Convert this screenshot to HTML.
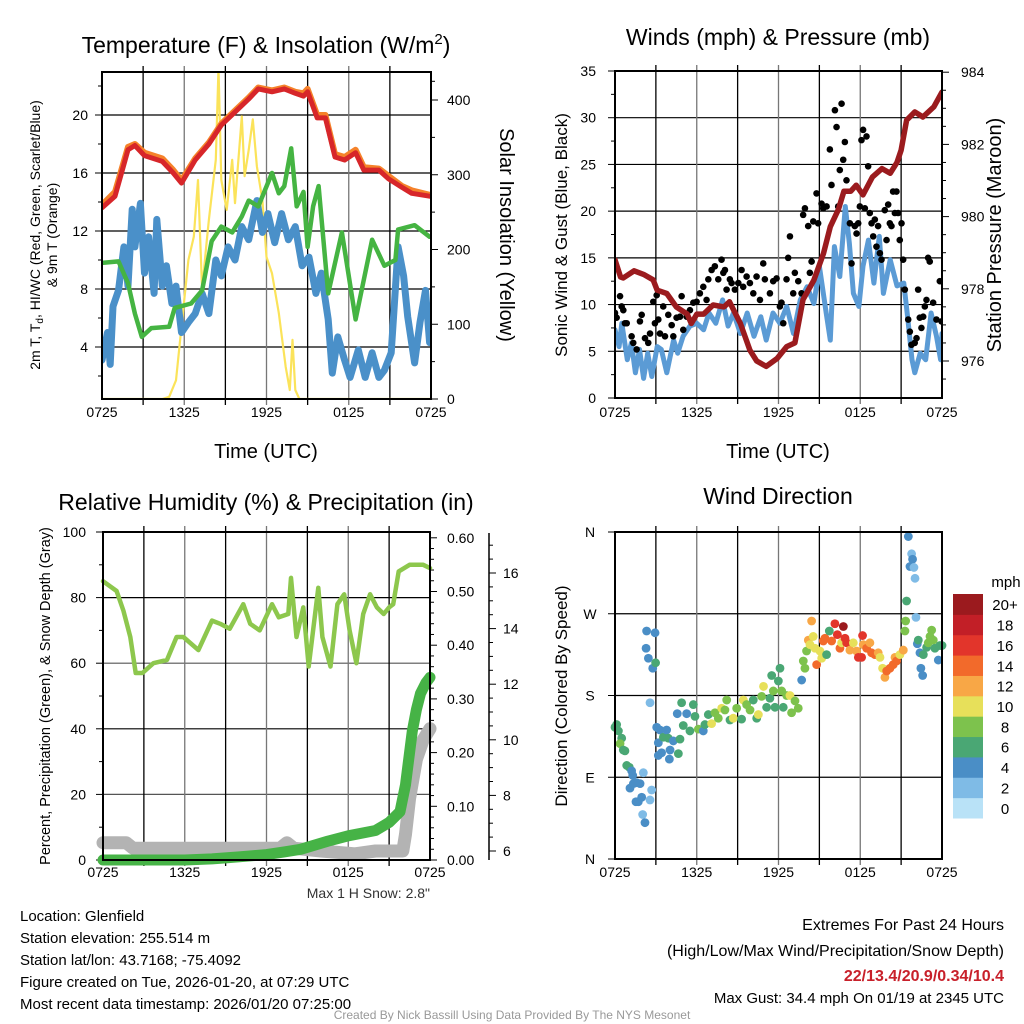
<!DOCTYPE html>
<html><head><meta charset="utf-8">
<style>
html,body{margin:0;padding:0;background:#fff;}
svg{display:block;font-family:"Liberation Sans",Arial,sans-serif;}
</style></head>
<body>
<svg id="c" width="1024" height="1024" viewBox="0 0 1024 1024" xmlns="http://www.w3.org/2000/svg">
<rect width="1024" height="1024" fill="#fff"/>
<g id="p1"></g>
<g id="p2"></g>
<g id="p3"></g>
<g id="p4"></g>
<g id="txt" font-size="15" fill="#000">
<text x="20" y="921">Location: Glenfield</text>
<text x="20" y="943">Station elevation: 255.514 m</text>
<text x="20" y="965">Station lat/lon: 43.7168; -75.4092</text>
<text x="20" y="987">Figure created on Tue, 2026-01-20, at 07:29 UTC</text>
<text x="20" y="1009">Most recent data timestamp: 2026/01/20 07:25:00</text>
<text x="1004" y="930" text-anchor="end" font-size="16">Extremes For Past 24 Hours</text>
<text x="1004" y="956" text-anchor="end" font-size="16">(High/Low/Max Wind/Precipitation/Snow Depth)</text>
<text x="1004" y="981" text-anchor="end" font-size="16" font-weight="bold" fill="#c8202a">22/13.4/20.9/0.34/10.4</text>
<text x="1004" y="1003" text-anchor="end" font-size="15">Max Gust: 34.4 mph On 01/19 at 2345 UTC</text>
<text x="512" y="1019" text-anchor="middle" font-size="12" fill="#999">Created By Nick Bassill Using Data Provided By The NYS Mesonet</text>
</g>
</svg>
<script>
// ---------- Panel 1 data ----------
const xTickLabels = ["0725","1325","1925","0125","0725"];
const tempHours = [0,0.95,1.9,2.4,3.1,4.4,5.2,5.8,6.8,7.8,8.7,9.7,10.7,11.4,12.4,13.3,14.1,14.7,15.0,15.7,16.3,17.0,17.7,18.5,19.1,20.2,20.9,21.9,22.6,23.9];
const temp2m = [13.6,14.4,17.6,17.9,17.2,16.8,16.0,15.3,16.9,18.0,19.3,20.2,21.1,21.8,21.6,21.8,21.5,21.3,21.6,19.8,19.8,17.1,16.9,17.4,16.2,16.2,15.6,15.0,14.6,14.4];
const temp9m = [13.8,14.7,17.8,18.0,17.4,17.0,16.2,15.5,17.0,18.1,19.4,20.3,21.2,21.9,21.7,21.9,21.6,21.5,21.8,20.0,20.0,17.3,17.1,17.6,16.4,16.3,15.8,15.1,14.8,14.5];
const hiHours = [0,1.2,1.9,2.4,2.9,3.6,4.9,5.3,6.5,7.3,8.0,8.7,9.5,10.2,10.7,11.4,12.4,12.9,13.3,13.8,14.2,14.7,15.0,15.4,15.8,16.5,17.5,18.5,19.7,20.6,21.4,21.6,22.8,23.9];
const hiwc = [9.8,9.9,8.4,6.3,4.7,5.3,5.4,6.7,7.0,7.9,11.3,12.3,11.9,13.0,14.1,13.7,16.0,14.6,15.1,17.7,13.7,14.7,10.9,13.7,15.1,7.7,11.9,5.9,11.4,9.6,10.0,12.1,12.4,11.6];
const tdHours = [0,0.4,0.6,0.8,1.2,1.6,1.9,2.2,2.4,2.8,3.1,3.4,3.8,4.0,4.4,4.7,5.1,5.4,5.8,6.3,6.8,7.3,7.8,8.3,8.7,9.2,9.7,10.2,10.7,11.3,11.7,12.1,12.6,13.1,13.6,14.1,14.6,15.1,15.6,16.0,16.5,16.8,17.2,17.7,18.1,18.7,19.2,19.7,20.2,20.6,21.1,21.6,22.0,22.3,22.8,23.2,23.6,23.9];
const dewpoint = [3.1,5.0,2.8,6.8,7.9,10.9,8.2,13.5,10.9,13.9,9.1,11.6,7.7,12.8,8.2,9.6,7.0,8.2,5.0,5.7,6.3,7.7,6.3,10.0,8.9,10.9,10.0,12.3,11.4,14.1,11.9,13.2,11.2,13.2,11.4,12.3,9.6,10.2,7.7,9.1,5.9,2.2,4.7,3.1,1.9,3.8,1.9,3.6,1.9,2.4,3.6,10.9,8.9,6.1,2.9,5.7,7.9,4.3];
const solHours = [0,4.4,4.9,5.4,5.8,6.3,6.7,7.0,7.3,7.6,7.8,8.3,8.5,8.7,9.1,9.5,9.7,10.2,10.4,10.7,11.0,11.3,11.7,12.0,12.4,12.9,13.4,13.7,13.9,14.1,14.4,24];
const solar = [0,0,3,25,97,186,217,293,146,204,240,320,443,293,253,320,262,378,298,333,374,311,266,190,168,115,43,12,79,12,0,0];

// ---------- Panel 2 data ----------
const presHours = [0,0.4,0.6,1.4,2.1,2.8,3.1,3.8,4.5,5.3,5.6,6.0,6.5,7.2,8.0,8.4,9.2,9.9,10.4,11.1,11.9,12.6,13.2,13.8,14.6,15.3,15.8,16.4,16.8,17.3,17.7,18.2,18.9,19.6,20.2,20.7,21.0,21.4,22.0,22.6,23.4,24];
const pressure = [978.8,978.33,978.3,978.5,978.4,978.25,977.96,977.87,977.5,977.3,977.04,977.3,977.3,977.55,977.5,977.64,977.04,976.3,976.0,975.85,976.07,976.4,976.5,977.7,978.24,978.98,979.72,980.2,980.7,980.7,980.87,980.6,981.1,981.33,981.2,981.5,981.84,982.67,982.9,982.76,983.04,983.45];
const windHours = [0,0.3,0.5,0.9,1.2,1.5,1.8,2.1,2.4,2.7,3.1,3.4,3.8,4.3,4.6,5.0,5.5,6.0,6.5,6.9,7.4,7.9,8.3,8.7,9.2,9.7,10.2,10.7,11.1,11.6,12.1,12.6,13.1,13.6,14.1,14.6,15.0,15.5,15.8,16.1,16.5,16.9,17.2,17.5,17.9,18.2,18.6,19.0,19.4,19.7,20.2,20.7,21.2,21.5,21.8,22.0,22.4,22.8,23.2,23.6,23.9,24];
const windSpeed = [7.3,5.5,8.0,4.1,5.9,2.7,5.2,2.1,4.8,2.3,5.5,5.2,2.7,6.2,4.8,6.6,7.7,8.0,7.3,9.1,8.0,10.5,7.7,9.1,6.9,9.1,6.6,8.7,6.2,9.1,8.0,9.8,6.9,10.5,11.9,10.1,14.1,9.1,6.2,16.2,13.0,20.5,16.5,11.2,9.8,14.1,16.9,12.3,17.3,11.2,14.8,12.0,12.3,8.4,4.1,2.7,4.8,4.1,9.1,6.6,4.1,6.9];
const gustHours = [0,0.12,0.37,0.49,0.61,0.73,0.86,1.22,1.34,1.59,1.83,1.96,2.2,2.44,2.57,2.81,2.93,3.06,3.18,3.3,3.54,3.67,3.91,4.16,4.28,4.52,4.77,4.89,5.01,5.26,5.5,5.75,5.99,6.23,6.48,6.72,6.85,7.09,7.33,7.58,7.82,7.95,8.07,8.19,8.43,8.56,8.8,9.05,9.29,9.41,9.66,9.9,10.15,10.39,10.64,10.88,11.0,11.37,11.61,11.86,12.1,12.22,12.35,12.59,12.71,12.84,13.08,13.2,13.45,13.69,13.81,13.94,14.18,14.3,14.43,14.55,14.79,14.91,15.16,15.28,15.53,15.77,15.89,16.14,16.26,16.38,16.5,16.63,16.75,16.87,16.99,17.24,17.36,17.6,17.73,17.85,17.97,18.09,18.21,18.34,18.46,18.58,18.7,18.83,18.95,19.07,19.19,19.31,19.44,19.56,19.8,19.93,20.05,20.17,20.29,20.41,20.54,20.66,20.78,20.9,21.03,21.15,21.27,21.52,21.64,21.76,22.0,22.13,22.25,22.37,22.49,22.62,22.74,22.86,22.98,23.1,23.35,23.59,23.84,23.96];
const gustSpeed = [9.1,8.6,10.9,9.8,9.4,8.0,8.0,6.6,5.9,5.2,8.2,8.9,6.4,5.9,6.9,10.3,8.0,11.0,8.4,6.9,9.8,6.6,8.9,7.8,6.6,8.6,8.7,10.9,7.3,8.7,9.4,10.2,10.3,11.2,11.9,10.5,12.7,13.7,14.1,12.7,14.8,13.4,13.7,11.6,12.7,12.3,11.6,12.3,13.7,11.9,13.0,12.3,11.2,13.0,10.5,14.4,12.7,11.2,12.5,12.8,9.8,10.2,8.0,12.7,15.0,17.3,11.2,13.4,12.5,11.2,19.6,20.3,18.4,13.4,14.6,18.9,21.9,18.7,20.8,20.3,20.5,26.6,22.8,30.8,29.0,20.5,24.4,31.5,25.5,27.4,23.3,18.7,14.4,18.4,17.6,18.7,20.5,27.6,28.7,20.3,28.0,24.8,19.8,18.7,17.3,19.1,16.2,18.4,15.5,14.8,20.1,16.9,20.7,18.7,18.4,22.1,19.8,22.1,19.8,16.9,18.7,14.8,11.6,8.4,7.1,5.7,5.9,6.4,11.6,8.6,7.5,8.7,9.8,10.5,15.0,14.6,10.2,8.4,12.5,8.2];

// ---------- Panel 3 data ----------
const rhHours = [0,1.0,1.5,2.0,2.4,2.9,3.7,4.7,5.4,5.9,7.0,8.0,8.6,9.3,10.3,10.8,11.5,12.4,12.9,13.6,13.8,14.2,14.7,15.1,15.8,16.1,16.7,17.2,17.7,18.1,18.6,19.1,19.6,20.1,20.6,21.0,21.3,21.7,22.5,23.5,24];
const rh = [85,82,76,68,57,57,60,61,68,68,64,73,72,70.5,78,72,70,78,74,75,86,68,77,59,83,68,59,78,81,70,60,75,81,77,75,77,78,88,90,90,89];
const precipHours = [0,2,4,6,8,9,10,11,12,13.3,14.5,16.5,18,20,21,21.8,22.2,22.4,22.7,23,23.3,23.7,24];
const precip = [0,0,0,0,0.002,0.004,0.006,0.008,0.01,0.015,0.02,0.035,0.045,0.055,0.07,0.09,0.14,0.18,0.24,0.28,0.31,0.33,0.34];
const snowHours = [0,1,1.7,2.2,4,6,8,10,12,13,13.5,14,16,18.5,20,22,22.2,22.5,23,23.5,24];
const snowDepth = [6.3,6.3,6.3,6.1,6.1,6.1,6.1,6.1,6.1,6.1,6.3,6.1,6.0,5.9,6.0,6.0,6.6,7.9,9.3,10.0,10.4];
const rhTicks = [0,20,40,60,80,100];
const precipTicks = ["0.00","0.10","0.20","0.30","0.40","0.50","0.60"];
const snowTicks = [6,8,10,12,14,16];

// ---------- Panel 4 data ----------
const wdHours = [0,0.12,0.25,0.49,0.37,0.61,0.73,0.86,1.05,1.22,1.3,1.1,1.35,1.59,1.84,1.54,1.71,1.96,2.08,2.03,2.2,2.57,2.69,2.57,2.32,2.28,2.45,2.77,2.94,2.98,3.06,3.3,3.18,3.42,3.18,3.55,3.79,3.91,4.04,3.99,4.28,4.65,4.77,4.57,4.89,5.01,5.26,5.5,5.75,5.87,6.12,6.48,6.6,6.85,7.09,7.34,7.58,7.83,8.07,8.2,8.44,8.68,8.93,9.29,9.42,9.66,9.91,10.15,10.4,10.52,10.76,10.9,11.13,11.37,11.5,11.62,11.74,11.99,12.11,12.23,12.35,12.6,12.84,12.96,13.21,13.45,13.7,13.82,13.94,14.06,14.19,14.31,14.43,14.55,14.68,14.8,15.04,15.17,15.29,15.41,15.53,15.73,15.9,16.14,16.32,16.51,16.63,16.76,16.88,17.0,17.24,17.49,17.73,17.86,18.1,18.17,18.22,18.47,18.71,18.83,19.08,19.32,19.45,19.64,19.81,19.94,20.18,20.42,20.55,20.67,20.91,21.16,21.28,21.33,21.4,21.53,21.65,21.77,21.84,21.94,22.02,22.09,22.19,22.26,22.38,22.45,22.58,22.63,22.87,22.99,23.12,23.24,23.36,23.48,23.73,23.85,24];
const wdDir = [145,148,141,133,127,120,119,103,101,97,92,78,83,84,83,63,63,68,95,49,40,65,76,172,251,232,221,210,249,216,145,142,128,117,114,134,142,133,120,110,130,116,132,160,172,147,160,141,170,157,143,141,148,159,149,161,155,166,164,175,153,155,166,154,175,170,164,175,155,159,179,190,167,177,202,185,167,196,210,185,167,180,180,161,174,166,197,218,210,229,241,236,262,245,232,214,229,221,240,243,225,251,240,259,247,232,238,256,243,238,230,238,229,222,222,246,236,232,238,227,225,227,222,210,200,207,210,214,222,218,225,230,251,262,284,355,322,336,330,321,309,266,237,241,227,210,202,225,233,238,245,252,241,232,219,235,235];
const wdSpeed = [7,7,7,7,9,7,7,7,7,5,5,5,5,5,5,5,5,5,3,3,5,3,3,3,5,5,5,5,5,7,5,5,5,5,5,7,5,7,5,5,5,7,7,5,7,7,5,7,7,7,9,5,7,7,11,9,9,11,9,9,7,11,9,7,11,9,9,7,7,11,9,11,7,7,7,9,7,7,7,9,7,9,11,9,9,9,5,9,9,9,13,11,13,11,11,15,11,11,15,15,7,7,15,17,17,15,11,20,17,17,13,11,13,17,17,17,13,15,13,15,15,13,11,11,13,15,15,15,13,15,11,13,9,9,7,5,5,3,5,3,3,3,5,7,5,5,5,7,7,9,9,9,9,7,5,7,7];
const dirLabels = ["N","E","S","W","N"];
const speedBins = ["0","2","4","6","8","10","12","14","16","18","20+"];
const binColors = ["#b9e2f7","#7fbbe6","#4a8ec6","#4aa774","#7dc24d","#e7e05a","#f8a746","#f26a2b","#e2352b","#c21f27","#9b1a1e"];

// ---------- helpers ----------
const NS="http://www.w3.org/2000/svg";
function mk(parent, tag, attrs){const e=document.createElementNS(NS,tag);for(const k in attrs)e.setAttribute(k,attrs[k]);parent.appendChild(e);return e;}
function txt(parent, x, y, s, size, anchor, rot){const t=mk(parent,'text',{x:x,y:y,'font-size':size,'text-anchor':anchor||'middle'});if(rot)t.setAttribute('transform','rotate('+rot+' '+x+' '+y+')');t.textContent=s;return t;}
function pathD(xs,ys,fx,fy){let d='';for(let i=0;i<xs.length;i++){d+=(i?'L':'M')+fx(xs[i]).toFixed(1)+' '+fy(ys[i]).toFixed(1);}return d;}
function frame(g,L,R,T,B){
  const r=mk(g,'rect',{x:L,y:T,width:R-L,height:B-T,fill:'none',stroke:'#000','stroke-width':2});
  
  
}
function vgrid(g,L,R,T,B){
  for(let i=1;i<8;i++){const x=L+(R-L)*i/8;const l=mk(g,'line',{x1:x,x2:x,y1:T-6,y2:B+6,stroke:i%2?'#000':'#777','stroke-width':1.3});
  
  }
}
function xlabels(g,L,R,y){
  for(let i=0;i<xTickLabels.length;i++){const t=txt(g,L+(R-L)*i/4,y,xTickLabels[i],14);
  
  }
}

// ---------- Panel 1 ----------
(function(){
  const g=document.getElementById('p1');
  const L=102,R=431,T=72,B=399;
  const fx=h=>L+(R-L)*h/24, fy=v=>405-14.5*v, fs=w=>399-0.7475*w;
  [4,8,12,16,20].forEach(v=>{const l=mk(g,'line',{x1:L,x2:R,y1:fy(v),y2:fy(v),stroke:'#000','stroke-width':1.2});
    
    
    const t=txt(g,88,fy(v)+5,String(v),14,'end');
    
    
    mk(g,'line',{x1:L-7,x2:L,y1:fy(v),y2:fy(v),stroke:'#000'});});
  [2,6,10,14,18,22].forEach(v=>mk(g,'line',{x1:L-4,x2:L,y1:fy(v),y2:fy(v),stroke:'#000'}));
  [0,100,200,300,400].forEach(v=>{const t=txt(g,447,fs(v)+5,String(v),14,'start');
    
    
    mk(g,'line',{x1:R,x2:R+7,y1:fs(v),y2:fs(v),stroke:'#000'});});
  [50,150,250,350,425].forEach(v=>mk(g,'line',{x1:R,x2:R+4,y1:fs(v),y2:fs(v),stroke:'#000'}));
  vgrid(g,L,R,T,B);
  const clip=mk(g,'clipPath',{id:'cp1'});mk(clip,'rect',{x:L,y:T,width:R-L,height:B-T});
  const s=mk(g,'g',{'clip-path':'url(#cp1)','fill':'none','stroke-linejoin':'round','stroke-linecap':'round'});
  const sol=mk(s,'path',{d:pathD(solHours,solar,fx,fs),stroke:'#fbe35a','stroke-width':2.2});
  
  
  const td=mk(s,'path',{d:pathD(tdHours,dewpoint,fx,fy),stroke:'#4a90c9','stroke-width':7});
  
  
  const hi=mk(s,'path',{d:pathD(hiHours,hiwc,fx,fy),stroke:'#45b442','stroke-width':4.5});
  
  
  const t9=mk(s,'path',{d:pathD(tempHours,temp9m,fx,fy),stroke:'#f5822a','stroke-width':6});
  
  
  const t2=mk(s,'path',{d:pathD(tempHours,temp2m,fx,fy),stroke:'#d7262a','stroke-width':5});
  
  
  frame(g,L,R,T,B);
  xlabels(g,L,R,417);
  let t=txt(g,266,458,'Time (UTC)',20);
  
  
  t=mk(g,'text',{x:266,y:53,'font-size':23,'text-anchor':'middle'});
  t.innerHTML='Temperature (F) &amp; Insolation (W/m<tspan dy="-9" font-size="15">2</tspan><tspan dy="9">)</tspan>';
  
  
  t=mk(g,'text',{x:40,y:235,'font-size':14,'text-anchor':'middle',transform:'rotate(-90 40 235)'});
  t.innerHTML='2m T, T<tspan dy="3" font-size="10">d</tspan><tspan dy="-3">, HI/WC (Red, Green, Scarlet/Blue)</tspan>';
  
  
  t=txt(g,57,235,'& 9m T (Orange)',14,'middle',-90);
  
  
  t=txt(g,500,235,'Solar Insolation (Yellow)',20,'middle',90);
  
  
})();

// ---------- Panel 2 ----------
(function(){
  const g=document.getElementById('p2');
  const L=615,R=942,T=71,B=398;
  const fx=h=>L+(R-L)*h/24, fy=v=>B-9.343*v, fp=p=>361-(p-976)*36.1;
  [5,10,15,20,25,30].forEach(v=>{const l=mk(g,'line',{x1:L,x2:R,y1:fy(v),y2:fy(v),stroke:'#000','stroke-width':1.2});
    
    });
  [0,5,10,15,20,25,30,35].forEach(v=>{const t=txt(g,596,fy(v)+5,String(v),14,'end');
    
    
    mk(g,'line',{x1:L-7,x2:L,y1:fy(v),y2:fy(v),stroke:'#000'});
    if(v<35)mk(g,'line',{x1:L-4,x2:L,y1:fy(v+2.5),y2:fy(v+2.5),stroke:'#000'});});
  [976,978,980,982,984].forEach(p=>{const t=txt(g,961,fp(p)+5,String(p),14,'start');
    
    
    mk(g,'line',{x1:R,x2:R+7,y1:fp(p),y2:fp(p),stroke:'#000'});});
  [975.5,976.5,977,977.5,978.5,979,979.5,980.5,981,981.5,982.5,983,983.5].forEach(p=>mk(g,'line',{x1:R,x2:R+4,y1:fp(p),y2:fp(p),stroke:'#000'}));
  vgrid(g,L,R,T,B);
  const clip=mk(g,'clipPath',{id:'cp2'});mk(clip,'rect',{x:L,y:T,width:R-L,height:B-T});
  const s=mk(g,'g',{'clip-path':'url(#cp2)','fill':'none','stroke-linejoin':'round','stroke-linecap':'round'});
  const w=mk(s,'path',{d:pathD(windHours,windSpeed,fx,fy),stroke:'#5b9bd5','stroke-width':5});
  
  
  for(let i=0;i<gustHours.length;i++){
    const c=mk(s,'circle',{cx:fx(gustHours[i]),cy:fy(gustSpeed[i]),r:3.3,fill:'#000'});
    
    
  }
  const p=mk(s,'path',{d:pathD(presHours,pressure,fx,fp),stroke:'#9b1b1e','stroke-width':5.5});
  
  
  frame(g,L,R,T,B);
  xlabels(g,L,R,417);
  let t=txt(g,778,458,'Time (UTC)',20);
  
  
  t=txt(g,778,45,'Winds (mph) & Pressure (mb)',23);
  
  
  t=txt(g,567,235,'Sonic Wind & Gust (Blue, Black)',17,'middle',-90);
  
  
  t=txt(g,1001,235,'Station Pressure (Maroon)',20,'middle',-90);
  
  
})();

// ---------- Panel 3 ----------
(function(){
  const g=document.getElementById('p3');
  const L=103,R=430,T=532,B=860;
  const fx=h=>L+(R-L)*h/24, fy=v=>B-3.28*v, fq=v=>B-537*v, fsn=v=>851-27.8*(v-6);
  rhTicks.forEach(v=>{if(v>0&&v<100){const l=mk(g,'line',{x1:L,x2:R,y1:fy(v),y2:fy(v),stroke:v%40?'#555':'#000','stroke-width':1.2});
    
    }
    const t=txt(g,86,fy(v)+5,String(v),14,'end');
    
    
    mk(g,'line',{x1:L-7,x2:L,y1:fy(v),y2:fy(v),stroke:'#000'});
    if(v<100)mk(g,'line',{x1:L-4,x2:L,y1:fy(v+10),y2:fy(v+10),stroke:'#000'});});
  precipTicks.forEach((s,i)=>{const v=i*0.1;const t=txt(g,447,fq(v)+5,s,14,'start');
    
    
    mk(g,'line',{x1:R,x2:R+7,y1:fq(v),y2:fq(v),stroke:'#000'});
    for(let k=1;k<5&&i<6;k++)mk(g,'line',{x1:R,x2:R+4,y1:fq(v+k*0.02),y2:fq(v+k*0.02),stroke:'#000'});});
  const ax=mk(g,'line',{x1:489,x2:489,y1:533,y2:860,stroke:'#000','stroke-width':1.5});
  
  
  snowTicks.forEach(v=>{const t=txt(g,503,fsn(v)+5,String(v),14,'start');
    
    
    mk(g,'line',{x1:489,x2:496,y1:fsn(v),y2:fsn(v),stroke:'#000'});
    for(let k=1;k<4;k++){const yy=fsn(v+k*0.5);if(yy>533)mk(g,'line',{x1:489,x2:493,y1:yy,y2:yy,stroke:'#000'});}});
  vgrid(g,L,R,T,B);
  const clip=mk(g,'clipPath',{id:'cp3'});mk(clip,'rect',{x:L-8,y:T,width:R-L+16,height:B-T+8});
  const s=mk(g,'g',{'clip-path':'url(#cp3)','fill':'none','stroke-linejoin':'round','stroke-linecap':'round'});
  const sn=mk(s,'path',{d:pathD(snowHours,snowDepth,fx,fsn),stroke:'#b3b3b3','stroke-width':13});
  
  
  const pr=mk(s,'path',{d:pathD(precipHours,precip,fx,fq),stroke:'#46b346','stroke-width':11});
  
  
  const rl=mk(s,'path',{d:pathD(rhHours,rh,fx,fy),stroke:'#8dc74d','stroke-width':4.5});
  
  
  frame(g,L,R,T,B);
  xlabels(g,L,R,877);
  let t=txt(g,266,510,'Relative Humidity (%) & Precipitation (in)',23);
  
  
  t=txt(g,50,696,'Percent, Precipitation (Green), & Snow Depth (Gray)',14.5,'middle',-90);
  
  
  t=txt(g,430,898,'Max 1 H Snow: 2.8"',14,'end');
  
  
  t.setAttribute('fill','#333');
})();

// ---------- Panel 4 ----------
(function(){
  const g=document.getElementById('p4');
  const L=615,R=942,T=532,B=859;
  const fx=h=>L+(R-L)*h/24, fy=d=>B-(B-T)*d/360;
  dirLabels.forEach((s,i)=>{const d=i*90;
    if(i>0&&i<4){const l=mk(g,'line',{x1:L,x2:R,y1:fy(d),y2:fy(d),stroke:'#000','stroke-width':1.2});
      
      }
    mk(g,'line',{x1:L-7,x2:L,y1:fy(d),y2:fy(d),stroke:'#000'});
    const t=txt(g,590,fy(d)+5,s,14,'middle');
    
    });
  vgrid(g,L,R,T,B);
  function binIdx(v){return v>=20?10:Math.floor(v/2);}
  for(let i=0;i<wdHours.length;i++){
    const c=mk(g,'circle',{cx:fx(wdHours[i]),cy:fy(wdDir[i]),r:4.4,fill:binColors[binIdx(wdSpeed[i])]});
    
    
  }
  frame(g,L,R,T,B);
  xlabels(g,L,R,877);
  let t=txt(g,778,504,'Wind Direction',23);
  
  
  t=txt(g,567,696,'Direction (Colored By Speed)',17,'middle',-90);
  
  
  const cb=mk(g,'g',{});
  
  
  const h=(818-594)/speedBins.length;
  for(let i=0;i<speedBins.length;i++){
    const y=818-(i+1)*h;
    const r=mk(cb,'rect',{x:953,y:y,width:30,height:h+0.5,fill:binColors[i]});
    
    
    const tl=txt(cb,1005,y+h/2+6,speedBins[i],15,'middle');
    
    
  }
  t=txt(cb,1006,587,'mph',15,'middle');
  
  
})();
</script>
</body></html>
